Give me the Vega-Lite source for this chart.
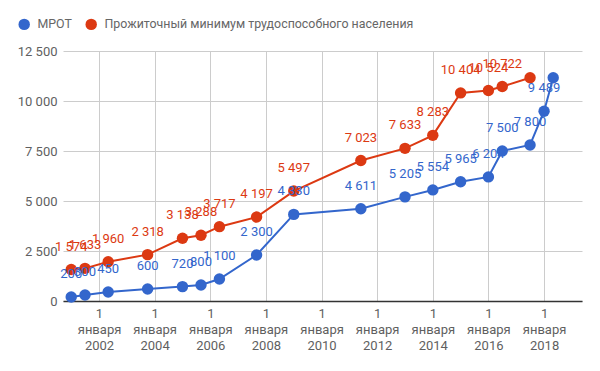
{
  "$schema": "https://vega.github.io/schema/vega-lite/v6.json",
  "width": 519,
  "height": 250,
  "autosize": {"type": "none"},
  "padding": {"left": 63, "top": 51, "right": 18, "bottom": 70},
  "config": {
    "font": "Roboto",
    "view": {"stroke": null},
    "locale": {"number": {"decimal": ",", "thousands": " ", "grouping": [3], "currency": ["", ""]}}
  },
  "data": {
    "values": [
      {"date": "2001-01-01", "series": "МРОТ", "value": 200},
      {"date": "2001-07-01", "series": "МРОТ", "value": 300},
      {"date": "2002-05-01", "series": "МРОТ", "value": 450},
      {"date": "2003-10-01", "series": "МРОТ", "value": 600},
      {"date": "2005-01-01", "series": "МРОТ", "value": 720},
      {"date": "2005-09-01", "series": "МРОТ", "value": 800},
      {"date": "2006-05-01", "series": "МРОТ", "value": 1100},
      {"date": "2007-09-01", "series": "МРОТ", "value": 2300},
      {"date": "2009-01-01", "series": "МРОТ", "value": 4330},
      {"date": "2011-06-01", "series": "МРОТ", "value": 4611},
      {"date": "2013-01-01", "series": "МРОТ", "value": 5205},
      {"date": "2014-01-01", "series": "МРОТ", "value": 5554},
      {"date": "2015-01-01", "series": "МРОТ", "value": 5965},
      {"date": "2016-01-01", "series": "МРОТ", "value": 6204},
      {"date": "2016-07-01", "series": "МРОТ", "value": 7500},
      {"date": "2017-07-01", "series": "МРОТ", "value": 7800},
      {"date": "2018-01-01", "series": "МРОТ", "value": 9489},
      {"date": "2018-05-01", "series": "МРОТ", "value": 11163},
      {"date": "2001-01-01", "series": "Прожиточный минимум трудоспособного населения", "value": 1574},
      {"date": "2001-07-01", "series": "Прожиточный минимум трудоспособного населения", "value": 1633},
      {"date": "2002-05-01", "series": "Прожиточный минимум трудоспособного населения", "value": 1960},
      {"date": "2003-10-01", "series": "Прожиточный минимум трудоспособного населения", "value": 2318},
      {"date": "2005-01-01", "series": "Прожиточный минимум трудоспособного населения", "value": 3138},
      {"date": "2005-09-01", "series": "Прожиточный минимум трудоспособного населения", "value": 3288},
      {"date": "2006-05-01", "series": "Прожиточный минимум трудоспособного населения", "value": 3717},
      {"date": "2007-09-01", "series": "Прожиточный минимум трудоспособного населения", "value": 4197},
      {"date": "2009-01-01", "series": "Прожиточный минимум трудоспособного населения", "value": 5497},
      {"date": "2011-06-01", "series": "Прожиточный минимум трудоспособного населения", "value": 7023},
      {"date": "2013-01-01", "series": "Прожиточный минимум трудоспособного населения", "value": 7633},
      {"date": "2014-01-01", "series": "Прожиточный минимум трудоспособного населения", "value": 8283},
      {"date": "2015-01-01", "series": "Прожиточный минимум трудоспособного населения", "value": 10404},
      {"date": "2016-01-01", "series": "Прожиточный минимум трудоспособного населения", "value": 10524},
      {"date": "2016-07-01", "series": "Прожиточный минимум трудоспособного населения", "value": 10722},
      {"date": "2017-07-01", "series": "Прожиточный минимум трудоспособного населения", "value": 11163}
    ]
  },
  "encoding": {
    "x": {
      "field": "date",
      "type": "temporal",
      "scale": {
        "type": "utc",
        "domain": [
          {"year": 2000, "month": 9, "date": 15, "utc": true},
          {"year": 2019, "month": 5, "date": 14, "utc": true}
        ]
      },
      "axis": {
        "title": null,
        "tickCount": {"interval": "year", "step": 2},
        "labelExpr": "['1', 'января', utcFormat(datum.value, '%Y')]",
        "labelFontSize": 13,
        "labelColor": "#5f5f5f",
        "labelLineHeight": 16,
        "labelPadding": 6,
        "ticks": false,
        "domainColor": "#333333",
        "domainWidth": 1.5,
        "gridColor": "#cccccc",
        "labelFlush": false
      }
    },
    "y": {
      "field": "value",
      "type": "quantitative",
      "scale": {"domain": [0, 12500], "nice": false},
      "axis": {
        "title": null,
        "values": [0, 2500, 5000, 7500, 10000, 12500],
        "format": ",d",
        "labelFontSize": 13,
        "labelColor": "#5f5f5f",
        "labelPadding": 6,
        "ticks": false,
        "domain": false,
        "gridColor": "#cccccc"
      }
    },
    "color": {
      "field": "series",
      "type": "nominal",
      "scale": {
        "domain": ["МРОТ", "Прожиточный минимум трудоспособного населения"],
        "range": ["#3366cc", "#dc3912"]
      },
      "legend": {
        "title": null,
        "orient": "none",
        "direction": "horizontal",
        "legendX": -45,
        "legendY": -33,
        "symbolType": "circle",
        "symbolSize": 130,
        "symbolStrokeWidth": 0,
        "labelFontSize": 12.4,
        "labelColor": "#666666",
        "labelLimit": 0,
        "columnPadding": 13,
        "labelOffset": 7
      }
    }
  },
  "layer": [
    {"mark": {"type": "line", "strokeWidth": 2}},
    {"mark": {"type": "point", "filled": true, "size": 130, "opacity": 1}},
    {
      "transform": [{"filter": "datum.value != 11163"}],
      "mark": {"type": "text", "dy": -23, "baseline": "middle", "fontSize": 13},
      "encoding": {"text": {"field": "value", "type": "quantitative", "format": ",d"}}
    }
  ]
}
